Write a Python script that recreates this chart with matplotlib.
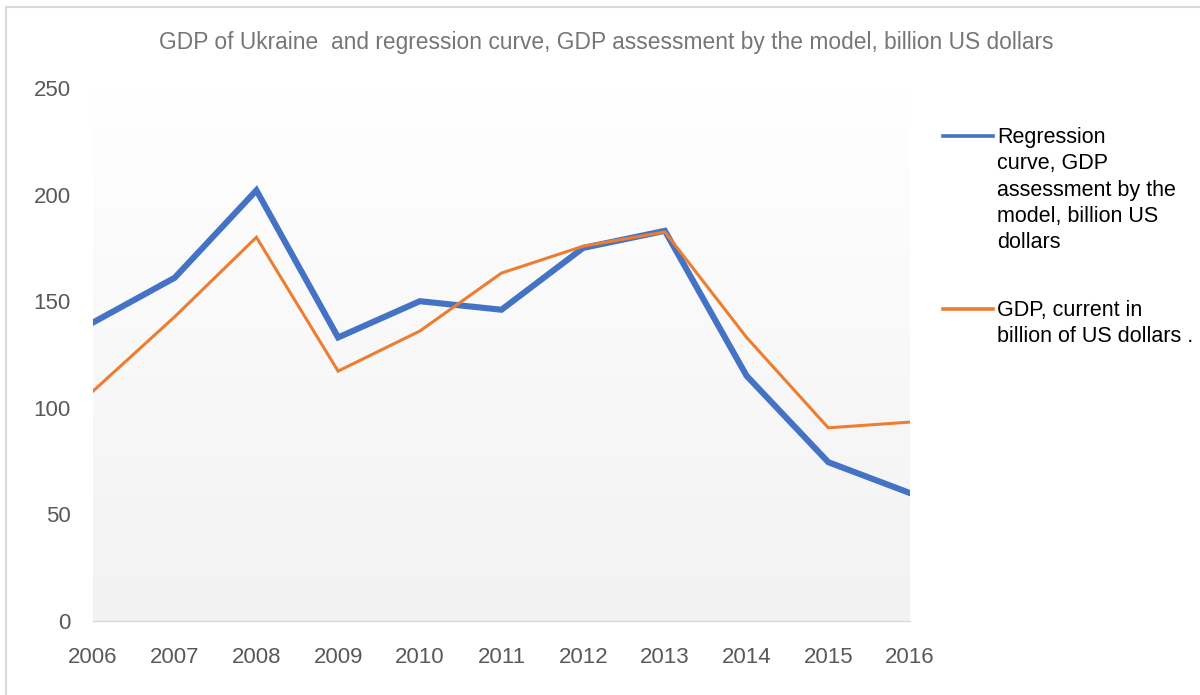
import numpy as np
import matplotlib
matplotlib.use('Agg')
import matplotlib.pyplot as plt
from matplotlib.lines import Line2D
from matplotlib.patches import Rectangle

years = [2006, 2007, 2008, 2009, 2010, 2011, 2012, 2013, 2014, 2015, 2016]
regression = [140, 161, 202, 133, 150, 146, 175, 183, 115, 74.5, 60]
gdp_current = [107.8, 142.7, 180.0, 117.2, 136.0, 163.2, 175.8, 182.5, 133.0, 90.6, 93.3]
yticks = [0, 50, 100, 150, 200, 250]

title = 'GDP of Ukraine  and regression curve, GDP assessment by the model, billion US dollars'
label_reg = 'Regression\ncurve, GDP\nassessment by the\nmodel, billion US\ndollars'
label_gdp = 'GDP, current in\nbillion of US dollars .'

blue = '#4472C4'
orange = '#ED7D31'
grey = '#595959'

plt.rcParams['font.family'] = ['Liberation Sans', 'DejaVu Sans']

fig = plt.figure(figsize=(12, 6.95), dpi=100)
ax = fig.add_axes([93/1200, 1 - 621/695, (910-93)/1200, (621-88)/695])

# light vertical gradient in the plot area
grad = np.linspace(1.0, 0.0, 256).reshape(-1, 1)
ax.imshow(grad, extent=[2006, 2016, 0, 250], aspect='auto', origin='upper',
          cmap=matplotlib.colors.LinearSegmentedColormap.from_list('g', ['#f2f2f2', '#ffffff']),
          zorder=0)

ax.plot(years, regression, color=blue, lw=4.4, solid_joinstyle='miter', zorder=3)
ax.plot(years, gdp_current, color=orange, lw=2.2, solid_joinstyle='miter', zorder=4)

ax.set_xlim(2006, 2016)
ax.set_ylim(0, 250)
ax.set_xticks(years)
ax.set_yticks(yticks)
ax.tick_params(length=0, labelsize=16, labelcolor=grey)
ax.tick_params(axis='x', pad=19)
ax.tick_params(axis='y', pad=16)
for s in ['top', 'right', 'left']:
    ax.spines[s].set_visible(False)
ax.spines['bottom'].set_color('#d9d9d9')
ax.spines['bottom'].set_linewidth(1)

fig.text(606/1200, 1 - 43/695, title, ha='center', va='center', fontsize=16.4, color='#767676')

# legend, drawn by hand
for ly, color, text in [(136, blue, label_reg), (309, orange, label_gdp)]:
    fig.add_artist(Line2D([943/1200, 993/1200], [1 - ly/695, 1 - ly/695], color=color, lw=2.6))
    fig.text(997/1200, 1 - (ly - 9)/695, text, ha='left', va='top', fontsize=15.5,
             color='black', linespacing=1.33)

# outer frame
fig.add_artist(Rectangle((6/1200, -0.1), 1.2, 1 - 7/695 + 0.1, transform=fig.transFigure,
                         fill=False, edgecolor='#d9d9d9', lw=1.5))

fig.savefig('out.png', dpi=100)
